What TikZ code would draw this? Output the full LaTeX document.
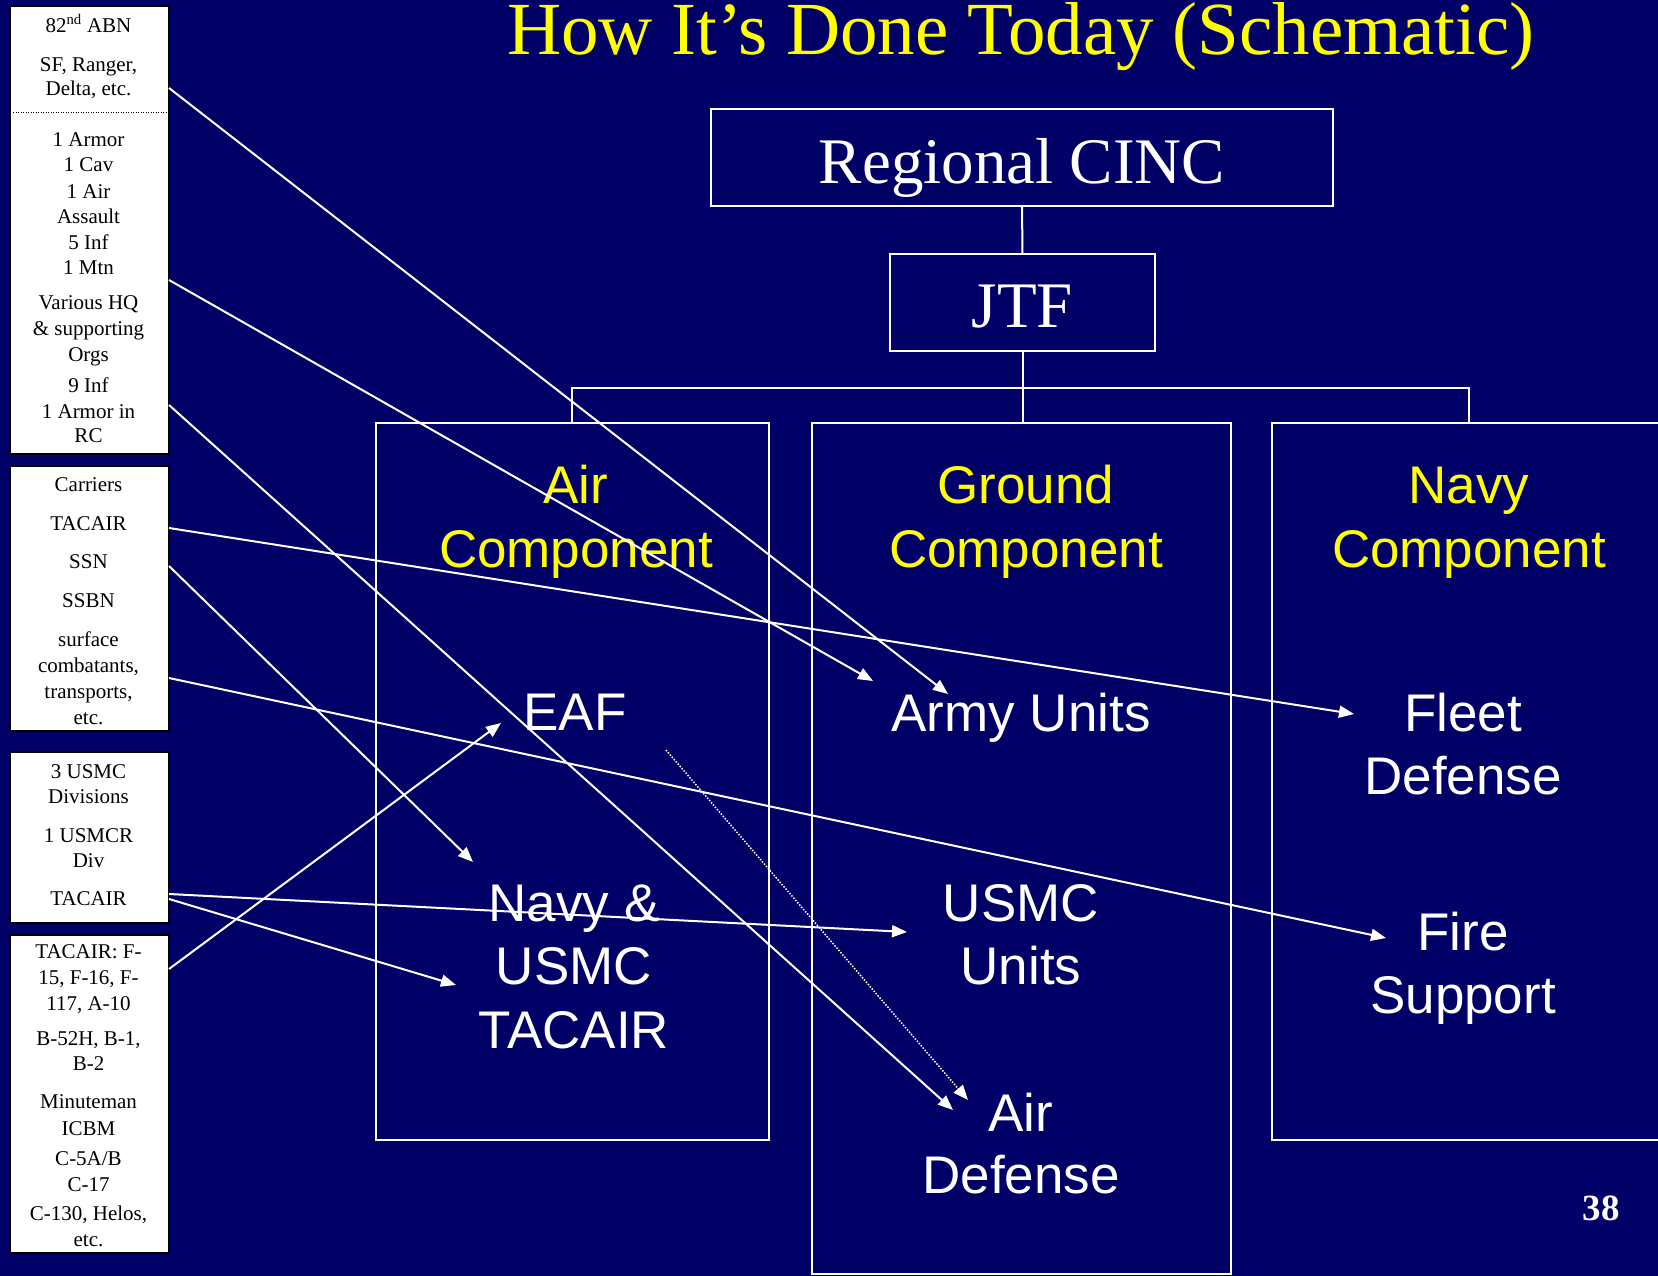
\documentclass[tikz,border=0pt]{standalone}
\usepackage{fontspec}
\setmainfont{Liberation Serif}
\newfontfamily\arial{Liberation Sans}
\usetikzlibrary{arrows.meta}
\definecolor{slidebg}{RGB}{0,0,102}
\definecolor{slideyellow}{RGB}{255,255,0}

\begin{document}
\begin{tikzpicture}[x=1pt,y=-1pt,
  frame/.style={draw=white, line width=2pt, inner sep=0pt, outer sep=0pt},
  listbox/.style={draw=black, fill=white, line width=1.5pt, inner sep=0pt, outer sep=0pt, minimum width=159pt},
  listtxt/.style={font=\fontsize{21}{25}\selectfont, text=black, anchor=base, inner sep=0pt},
  headtxt/.style={font=\fontsize{65}{70}\selectfont, text=white, anchor=base, inner sep=0pt},
  comptxt/.style={font=\arial\fontsize{53}{60}\selectfont, text=slideyellow, anchor=base, inner sep=0pt},
  unittxt/.style={font=\arial\fontsize{53}{60}\selectfont, text=white, anchor=base, inner sep=0pt},
  link/.style={draw=white, line width=2pt, -{Triangle[length=15pt,width=12pt]}},
  dotlink/.style={draw=white, line width=1.5pt, dash pattern=on 1.5pt off 1.5pt, -{Triangle[length=15pt,width=12pt]}}
]
% slide background
\fill[slidebg] (0,0) rectangle (1658,1276);
\useasboundingbox (0,0) rectangle (1658,1276);

% title
\node[font=\fontsize{75}{80}\selectfont, text=slideyellow, anchor=base, inner sep=0pt] (title) at (1021,55) {How It’s Done Today (Schematic)};

% command chain
\node[frame, minimum width=622pt, minimum height=97pt] (cinc) at (1022,157.5) {};
\node[headtxt] (cinctxt) at (1022,184) {Regional CINC};
\node[frame, minimum width=265pt, minimum height=97pt] (jtf) at (1022.5,302.5) {};
\node[headtxt] (jtftxt) at (1022.5,327) {JTF};

% component boxes
\node[frame, minimum width=393pt, minimum height=717pt] (air) at (572,781.5) {};
\node[frame, minimum width=419pt, minimum height=851pt] (ground) at (1021.5,848.5) {};
\node[frame, minimum width=394pt, minimum height=717pt] (navy) at (1469,781.5) {};

% tree connectors
\draw[white, line width=2pt] (cinc.south) -- (jtf.north);
\coordinate (hub) at (1022.5,388);
\draw[white, line width=2pt] (jtf.south) -- (hub);
\draw[white, line width=2pt] (air.north) |- (hub) -| (navy.north);
\draw[white, line width=2pt] (hub) -- (hub |- ground.north);

% component headings
\node[comptxt] (airA) at (576,503) {Air};
\node[comptxt] (airB) at (576,567) {Component};
\node[comptxt] (grdA) at (1026,503) {Ground};
\node[comptxt] (grdB) at (1026,567) {Component};
\node[comptxt] (navA) at (1469,503) {Navy};
\node[comptxt] (navB) at (1469,567) {Component};

% units inside the components
\node[unittxt] (eaf) at (575,730) {EAF};
\node[unittxt] (army) at (1021,731) {Army Units};
\node[unittxt] (fleetA) at (1463,731) {Fleet};
\node[unittxt] (fleetB) at (1463,794) {Defense};
\node[unittxt] (nvA) at (574,921) {Navy \&};
\node[unittxt] (nvB) at (574,984) {USMC};
\node[unittxt] (nvC) at (574,1048) {TACAIR};
\node[unittxt] (usmcA) at (1021,921) {USMC};
\node[unittxt] (usmcB) at (1021,984) {Units};
\node[unittxt] (fireA) at (1463,950) {Fire};
\node[unittxt] (fireB) at (1463,1013) {Support};
\node[unittxt] (adA) at (1021,1131) {Air};
\node[unittxt] (adB) at (1021,1193) {Defense};

% force lists on the left
\node[listbox, minimum height=448pt] (army list) at (89.5,230) {};
\node[listbox, minimum height=265pt] (navy list) at (89.5,598.5) {};
\node[listbox, minimum height=171pt] (usmc list) at (89.5,837.5) {};
\node[listbox, minimum height=318pt] (af list) at (89.5,1094) {};
\draw[black, line width=1pt, dash pattern=on 1pt off 1.5pt] (13,113) -- (166,113);

\foreach \yy/\tt [count=\i] in {
  32.5/{82\textsuperscript{nd} ABN}, 71.5/{SF, Ranger,}, 96/{Delta, etc.},
  146.7/{1 Armor}, 172/{1 Cav}, 198.5/{1 Air}, 224/{Assault}, 249.3/{5 Inf}, 274.7/{1 Mtn},
  309.6/{Various HQ}, 335/{\& supporting}, 361.4/{Orgs}, 392/{9 Inf}, 418.5/{1 Armor in}, 442.8/{RC}}
  \node[listtxt] (al\i) at (88.5,\yy) {\tt};

\foreach \yy/\tt [count=\i] in {
  491.4/{Carriers}, 530.6/{TACAIR}, 568.6/{SSN}, 607.7/{SSBN},
  646.9/{surface}, 672.2/{combatants,}, 698.7/{transports,}, 724.1/{etc.}}
  \node[listtxt] (nl\i) at (88.5,\yy) {\tt};

\foreach \yy/\tt [count=\i] in {
  778/{3 USMC}, 803.4/{Divisions}, 842.5/{1 USMCR}, 867.9/{Div}, 905.9/{TACAIR}}
  \node[listtxt] (ml\i) at (88.5,\yy) {\tt};

\foreach \yy/\tt [count=\i] in {
  958.5/{TACAIR: F-}, 984/{15, F-16, F-}, 1010.4/{117, A-10},
  1045.3/{B-52H, B-1,}, 1070.7/{B-2}, 1108.8/{Minuteman}, 1135.2/{ICBM},
  1165.9/{C-5A/B}, 1191.2/{C-17}, 1220.8/{C-130, Helos,}, 1246.2/{etc.}}
  \node[listtxt] (fl\i) at (88.5,\yy) {\tt};

% arrow targets
\coordinate (toArmyA) at (948,694);
\coordinate (toArmyB) at (873,681);
\coordinate (toAirDefA) at (953,1110);
\coordinate (toAirDefB) at (968,1100);
\coordinate (toFleet) at (1354,714);
\coordinate (toNavyAirA) at (473,862);
\coordinate (toNavyAirB) at (456,985);
\coordinate (toFire) at (1386,938);
\coordinate (toUSMC) at (907,932);
\coordinate (toEAF) at (501,723);
\coordinate (dotStart) at (666,750);

% assignments of forces to components
\draw[link] (army list.east |- 0,88) -- (toArmyA);
\draw[link] (army list.east |- 0,280) -- (toArmyB);
\draw[link] (army list.east |- 0,405) -- (toAirDefA);
\draw[link] (navy list.east |- 0,528) -- (toFleet);
\draw[link] (navy list.east |- 0,566) -- (toNavyAirA);
\draw[link] (navy list.east |- 0,678) -- (toFire);
\draw[link] (usmc list.east |- 0,894) -- (toUSMC);
\draw[link] (usmc list.east |- 0,899) -- (toNavyAirB);
\draw[link] (af list.east |- 0,969) -- (toEAF);
\draw[dotlink] (dotStart) -- (toAirDefB);

% page number
\node[font=\bfseries\fontsize{37}{40}\selectfont, text=white, anchor=base, inner sep=0pt] (pagenum) at (1601,1220) {38};
\end{tikzpicture}
\end{document}
